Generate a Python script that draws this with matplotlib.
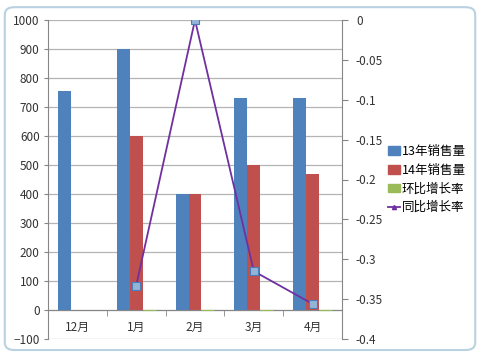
import matplotlib
matplotlib.use("Agg")
import matplotlib.pyplot as plt
import numpy as np
from matplotlib.patches import FancyBboxPatch
from matplotlib.lines import Line2D
from matplotlib.patches import Patch

plt.rcParams['font.family'] = ['Noto Sans CJK SC', 'DejaVu Sans']

categories = ['12月', '1月', '2月', '3月', '4月']
sales13 = [755, 900, 400, 730, 730]
sales14 = [np.nan, 600, 400, 500, 470]
mom = [np.nan, -0.2, -0.33, 0.25, -0.06]
yoy = [np.nan, -0.333, 0.0, -0.315, -0.356]
left_ticks = list(range(-100, 1001, 100))
right_ticks = [0, -0.05, -0.1, -0.15, -0.2, -0.25, -0.3, -0.35, -0.4]
right_labels = ['0', '-0.05', '-0.1', '-0.15', '-0.2', '-0.25', '-0.3', '-0.35', '-0.4']

c_blue = '#4F81BD'
c_red = '#C0504D'
c_green = '#9BBB59'
c_purple = '#7030A0'
tc = '#333333'

fig = plt.figure(figsize=(4.8, 3.59), dpi=100)
fig.patch.set_facecolor('white')
frame = FancyBboxPatch((0.01, 0.025), 0.98, 0.955, boxstyle="round,pad=0,rounding_size=0.02",
                       transform=fig.transFigure, facecolor='white', edgecolor='#B9D1E0', lw=1.5,
                       zorder=-10)
fig.patches.append(frame)

ax = fig.add_axes([0.1, 0.0557, 0.6125, 0.8886])
ax.set_facecolor('none')
x = np.arange(len(categories))
w = 0.22
ax.bar(x - w, sales13, w, color=c_blue, zorder=3)
ax.bar(x, sales14, w, color=c_red, zorder=3)
ax.bar(x + w, mom, w, color=c_green, edgecolor=c_green, lw=0.8, zorder=3)

ax.set_ylim(-100, 1000)
ax.set_xlim(-0.5, len(categories) - 0.5)
ax.set_yticks(left_ticks)
ax.yaxis.grid(True, color='#B4B4B4', lw=0.9, zorder=0)
ax.set_axisbelow(True)
ax.tick_params(axis='y', length=3, color='#868686', labelsize=8.5, labelcolor=tc, pad=3)
ax.set_xticks(x)
ax.set_xticklabels(categories)
ax.set_xticks(np.arange(-0.5, len(categories), 1), minor=True)
ax.tick_params(axis='x', which='major', length=0, labelsize=8.5, labelcolor=tc, pad=8)
ax.tick_params(axis='x', which='minor', length=4, color='#868686', direction='out')
ax.spines['bottom'].set_position(('data', 0))
ax.spines['bottom'].set_color('#868686')
ax.spines['top'].set_visible(False)
ax.spines['left'].set_color('#868686')
ax.spines['right'].set_visible(False)

ax2 = ax.twinx()
ax2.plot(x, yoy, color=c_purple, lw=1.3, marker='s', ms=5.5, mfc='#95B3D7', mec='#4A7EBB', mew=0.8, zorder=5)
ax2.set_ylim(-0.4, 0)
ax2.set_yticks(right_ticks)
ax2.set_yticklabels(right_labels)
ax2.tick_params(axis='y', length=4, color='#868686', labelsize=8.5, labelcolor=tc, pad=6)
for s in ['top', 'left', 'bottom']:
    ax2.spines[s].set_visible(False)
ax2.spines['right'].set_color('#868686')

handles = [Patch(color=c_blue), Patch(color=c_red), Patch(color=c_green),
           Line2D([0], [0], color=c_purple, lw=1.3, marker='^', ms=3)]
labels = ['13年销售量', '14年销售量', '环比增长率', '同比增长率']
fig.legend(handles, labels, loc='center left', bbox_to_anchor=(0.797, 0.5), frameon=False,
           fontsize=9, handlelength=1.0, handletextpad=0.15, labelspacing=0.45,
           borderaxespad=0)

fig.savefig('out.png', dpi=100)
